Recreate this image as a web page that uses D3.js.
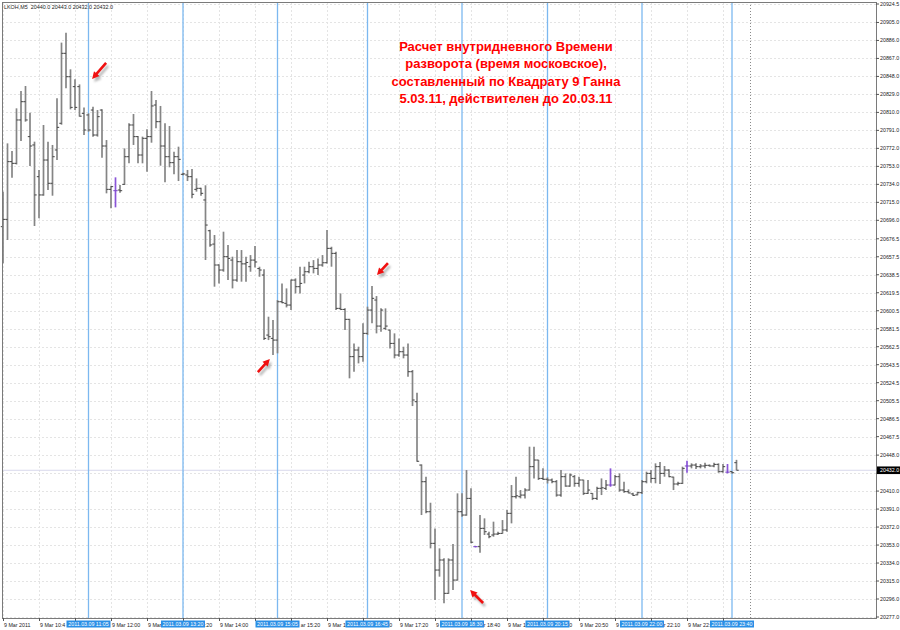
<!DOCTYPE html>
<html><head><meta charset="utf-8">
<script src="https://cdn.jsdelivr.net/npm/d3@7"></script>
<style>body{margin:0;background:#fff} svg{display:block}</style>
</head><body><svg id="c" width="900" height="630"></svg>
<script>
// ---------- DATA ----------
const opens=[20689.3,20697.0,20758.0,20756.2,20802.0,20821.3,20784.4,20775.6,20742.1,20722.8,
20759.7,20735.1,20770.3,20798.5,20872.4,20847.7,20837.2,20837.2,20809.0,20807.3,
20812.5,20786.1,20812.5,20774.5,20728.7,20727.3,20728.0,20734.0,20763.2,20796.7,
20784.4,20765.0,20782.6,20784.4,20817.8,20800.2,20774.5,20763.2,20756.9,20763.2,
20744.6,20743.9,20742.1,20728.7,20729.8,20717.5,20685.0,20670.9,20648.8,20643.5,
20657.6,20654.0,20632.9,20652.3,20650.0,20647.0,20654.0,20645.0,20638.2,20574.8,
20571.3,20569.5,20610.0,20608.3,20606.5,20632.9,20625.9,20638.2,20641.7,20647.0,
20645.2,20648.8,20651.2,20666.4,20661.1,20603.0,20601.9,20591.4,20552.0,20559.0,
20552.0,20576.6,20601.2,20611.8,20584.3,20581.9,20580.1,20566.0,20553.7,20557.2,
20553.7,20536.1,20504.4,20437.5,20419.9,20388.2,20354.8,20326.6,20337.2,20302.0,
20337.2,20316.0,20388.2,20384.7,20402.3,20351.3,20351.3,20370.6,20364.6,20363.6,
20364.6,20365.3,20368.9,20386.5,20404.1,20404.1,20405.8,20411.1,20435.8,20442.8,
20423.4,20422.5,20421.7,20419.9,20405.8,20425.2,20415.3,20425.2,20418.2,20421.7,
20407.6,20407.6,20402.3,20412.9,20412.9,20416.4,20416.4,20425.2,20411.1,20409.4,
20407.0,20406.0,20408.3,20419.9,20428.7,20423.4,20435.8,20428.7,20432.2,20424.8,
20417.5,20418.2,20436.5,20436.5,20437.5,20435.8,20436.5,20437.2,20436.5,20438.2,
20430.5,20430.0,20430.5,20440.0];
const highs=[20726.3,20777.3,20769.2,20814.3,20832.6,20837.9,20809.7,20779.1,20749.2,20796.7,
20779.1,20775.6,20824.9,20883.7,20894.2,20855.5,20844.9,20839.6,20815.3,20809.0,
20816.0,20812.5,20813.2,20780.8,20732.6,20741.4,20733.3,20772.0,20798.5,20808.3,
20785.0,20784.4,20792.1,20832.6,20823.1,20816.8,20798.5,20795.6,20768.5,20773.8,
20746.3,20749.2,20750.2,20740.3,20730.5,20733.0,20686.0,20680.5,20649.5,20684.0,
20669.9,20657.6,20664.6,20664.6,20657.6,20659.3,20668.8,20647.0,20644.2,20594.2,
20590.7,20611.8,20629.4,20624.1,20633.5,20634.7,20647.0,20647.0,20652.3,20654.0,
20655.8,20659.3,20685.7,20668.1,20662.8,20618.8,20603.0,20592.0,20566.0,20562.5,
20587.2,20604.8,20626.6,20616.0,20603.0,20603.0,20580.5,20576.6,20571.3,20562.5,
20566.0,20537.9,20513.9,20438.2,20425.2,20397.7,20370.6,20349.5,20339.0,20339.0,
20354.1,20407.6,20407.6,20432.2,20412.9,20352.0,20384.7,20381.2,20367.1,20377.7,
20367.1,20379.4,20390.0,20416.4,20425.2,20411.1,20412.9,20456.9,20456.9,20443.0,
20434.0,20424.5,20423.4,20421.7,20432.2,20428.7,20428.7,20427.0,20425.2,20422.0,
20421.7,20407.9,20414.6,20423.4,20421.7,20434.0,20427.0,20428.7,20419.9,20411.8,
20408.3,20409.4,20421.7,20430.5,20432.2,20439.3,20440.7,20436.5,20433.0,20425.2,
20419.9,20435.8,20442.1,20439.3,20439.3,20438.6,20440.0,20438.2,20440.0,20439.3,
20438.6,20438.6,20431.0,20443.0];
const lows=[20650.6,20675.2,20741.1,20755.0,20779.8,20800.2,20753.4,20690.0,20698.1,20722.0,
20728.0,20722.0,20759.7,20797.0,20835.4,20813.2,20812.5,20805.5,20786.1,20789.6,
20784.4,20784.4,20762.2,20724.5,20708.7,20709.7,20725.2,20733.3,20756.2,20775.6,
20756.2,20756.2,20747.4,20778.0,20793.2,20753.7,20736.1,20752.0,20744.6,20737.5,
20743.5,20737.5,20719.2,20726.3,20722.0,20654.1,20668.2,20625.9,20629.4,20641.7,
20632.9,20624.1,20631.2,20631.2,20631.2,20641.7,20646.3,20636.4,20569.5,20569.5,
20553.7,20555.5,20608.3,20604.0,20601.2,20618.8,20618.8,20629.4,20640.0,20640.0,
20638.2,20647.0,20650.5,20647.0,20601.2,20601.2,20580.1,20529.1,20536.1,20544.9,
20546.7,20574.8,20587.2,20576.6,20578.3,20580.1,20560.7,20550.2,20551.9,20550.2,
20530.8,20499.8,20441.0,20384.7,20386.5,20349.5,20295.0,20319.6,20291.4,20301.5,
20305.5,20315.5,20382.9,20384.0,20354.8,20350.5,20344.9,20363.6,20360.1,20361.8,
20363.6,20365.0,20367.1,20375.9,20402.3,20402.3,20402.3,20410.5,20423.4,20421.7,
20421.7,20418.0,20418.2,20404.1,20404.1,20414.6,20414.6,20414.6,20414.6,20405.8,
20407.0,20400.5,20400.5,20405.8,20411.1,20414.6,20416.0,20409.4,20408.3,20407.6,
20404.8,20405.5,20406.9,20418.2,20418.9,20418.2,20417.5,20425.2,20424.5,20411.1,
20416.0,20417.5,20429.4,20434.0,20433.3,20434.0,20434.0,20435.8,20435.1,20429.4,
20429.4,20428.7,20428.5,20432.0];
const closes=[20697.0,20758.0,20756.2,20802.0,20821.3,20802.0,20774.5,20722.8,20722.8,20759.7,
20735.1,20763.2,20794.2,20872.4,20847.7,20815.3,20815.3,20806.0,20791.4,20791.4,
20786.1,20805.5,20774.5,20728.7,20731.6,20727.3,20727.3,20763.2,20796.7,20784.4,
20765.0,20782.6,20784.4,20816.8,20800.2,20774.5,20763.2,20756.9,20763.2,20760.4,
20745.0,20742.1,20723.5,20729.8,20724.5,20691.0,20670.0,20648.8,20643.5,20657.6,
20655.8,20632.9,20652.3,20650.0,20651.5,20654.0,20652.0,20643.5,20571.3,20573.1,
20569.5,20610.0,20609.0,20606.5,20632.9,20625.9,20629.4,20641.7,20647.0,20645.2,
20648.8,20651.2,20666.4,20661.1,20603.0,20601.9,20591.4,20552.0,20559.0,20552.0,
20576.6,20601.2,20613.6,20584.3,20601.2,20584.3,20566.0,20553.7,20557.2,20553.7,
20536.1,20506.2,20441.5,20419.9,20388.2,20354.8,20326.6,20337.2,20302.0,20337.2,
20316.0,20388.2,20384.7,20402.3,20356.0,20351.3,20370.6,20367.1,20361.8,20364.6,
20365.3,20368.9,20386.5,20404.1,20405.0,20405.8,20411.1,20435.8,20442.8,20423.4,
20422.5,20421.7,20419.9,20405.8,20425.2,20415.3,20427.0,20418.2,20421.7,20407.6,
20411.1,20402.3,20412.9,20413.5,20416.4,20416.4,20425.2,20411.1,20409.4,20408.0,
20405.5,20408.3,20419.9,20428.7,20423.4,20435.8,20428.7,20432.2,20425.2,20417.5,
20418.2,20434.0,20436.5,20437.5,20435.8,20436.5,20437.2,20436.5,20438.2,20430.5,
20435.8,20430.0,20429.4,20432.0];

const priceTicks=[20924.5,20905.0,20886.0,20867.0,20848.0,20829.0,20810.0,20791.0,20772.0,20753.0,
20734.0,20715.0,20696.0,20676.5,20657.5,20638.5,20619.5,20600.5,20581.5,20562.5,20543.5,20524.5,
20505.5,20486.5,20467.5,20448.0,20429.0,20410.0,20391.0,20372.0,20353.0,20334.0,20315.0,20296.0,20277.0];
const timeTickIdx=[0,8,16,24,32,40,48,56,64,72,80,88,96,104,112,120,128,136,144,152,160];
const timeTickLabels=["9 Mar 2011","9 Mar 10:40","9 Mar 11:20","9 Mar 12:00","9 Mar 12:40","9 Mar 13:20",
"9 Mar 14:00","9 Mar 14:40","9 Mar 15:20","9 Mar 16:00","9 Mar 16:40","9 Mar 17:20","9 Mar 18:00",
"9 Mar 18:40","9 Mar 19:30","9 Mar 20:10","9 Mar 20:50","9 Mar 21:30","9 Mar 22:10","9 Mar 22:50","9 Mar 23:30"];
const markerIdx=[19,40,61,81,102,121,142,162];
const markerLabels=["2011.03.09 11:05","2011.03.09 13:20","2011.03.09 15:05","2011.03.09 16:45",
"2011.03.09 18:30","2011.03.09 20:15","2011.03.09 22:00","2011.03.09 23:40"];
const shiftIdx=166;
const lastPrice=20432.0;
const lastPriceLabel="20432.0";
const header="LKOH,M5  20440.0 20443.0 20432.0 20432.0";
const titleLines=["Расчет внутридневного Времени","разворота (время московское),",
"составленный по Квадрату 9 Ганна","5.03.11, действителен до 20.03.11"];
// arrows: head at (bar index, price), tail offset in px
const arrowIdx=[19.8,59.3,83.1,103.8];
const arrowPrice=[20845.3,20549.5,20638.2,20305.5];
const arrowTail=[[14,-16],[-12,13],[11,-12],[13,13]];

// ---------- CHART ----------
const svg=d3.select("#c");
const L=2,T=2,R=876,B=618;
const x=d3.scaleLinear().domain([0,166]).range([3,750]);
const y=d3.scaleLinear().domain([20277,20924.5]).range([617,4]);
const small="'Liberation Sans', Arial, sans-serif";
const FS=5.3;

svg.append("rect").attr("width",900).attr("height",630).attr("fill","#fff");

// grid
const g=svg.append("g");
g.selectAll(".hg").data(priceTicks).enter().append("line")
 .attr("x1",L).attr("x2",R).attr("y1",d=>Math.round(y(d))+0.5).attr("y2",d=>Math.round(y(d))+0.5)
 .attr("stroke","#e4e4e4").attr("stroke-dasharray","2,2").attr("stroke-width",1);
g.selectAll(".vg").data(timeTickIdx).enter().append("line")
 .attr("x1",d=>Math.round(x(d))+0.5).attr("x2",d=>Math.round(x(d))+0.5).attr("y1",T).attr("y2",B)
 .attr("stroke","#e4e4e4").attr("stroke-dasharray","2,2").attr("stroke-width",1);

// bid line
svg.append("line").attr("x1",L).attr("x2",R).attr("y1",y(lastPrice)).attr("y2",y(lastPrice))
 .attr("stroke","#d8d8ec").attr("stroke-width",1);

// marker lines
svg.selectAll(".ml").data(markerIdx).enter().append("line")
 .attr("x1",d=>x(d)).attr("x2",d=>x(d)).attr("y1",T).attr("y2",B)
 .attr("stroke","#7cb8f0").attr("stroke-width",1.3);
// shift line
svg.append("line").attr("x1",Math.round(x(shiftIdx))+0.5).attr("x2",Math.round(x(shiftIdx))+0.5)
 .attr("y1",T).attr("y2",B).attr("stroke","#8a8a8a").attr("stroke-dasharray","1,2");

// bars
const bars=d3.range(opens.length).map(i=>({i,o:opens[i],h:highs[i],l:lows[i],c:closes[i]}));
const bg=svg.append("g");
const col=d=>d.o===d.c?"#8a55d8":"#858585";
bg.selectAll(".b").data(bars).enter().append("line")
 .attr("x1",d=>x(d.i)).attr("x2",d=>x(d.i)).attr("y1",d=>y(d.h)).attr("y2",d=>y(d.l))
 .attr("stroke",col).attr("stroke-width",1.7);
bg.selectAll(".o").data(bars).enter().append("line")
 .attr("x1",d=>x(d.i)-2.2).attr("x2",d=>x(d.i)).attr("y1",d=>y(d.o)).attr("y2",d=>y(d.o))
 .attr("stroke",d=>d.o===d.c?"#7a45c8":"#444").attr("stroke-width",1);
bg.selectAll(".cl").data(bars).enter().append("line")
 .attr("x1",d=>x(d.i)).attr("x2",d=>x(d.i)+2.2).attr("y1",d=>y(d.c)).attr("y2",d=>y(d.c))
 .attr("stroke",d=>d.o===d.c?"#7a45c8":"#444").attr("stroke-width",1);

// frame
svg.append("rect").attr("x",L+0.5).attr("y",T+0.5).attr("width",R-L).attr("height",B-T)
 .attr("fill","none").attr("stroke","#7a7a7a").attr("stroke-width",1);

// price axis
const hlTop=y(lastPrice)-3.8, hlBot=y(lastPrice)+3.8;
svg.selectAll(".pt").data(priceTicks).enter().append("line")
 .attr("x1",R).attr("x2",R+3).attr("y1",d=>y(d)).attr("y2",d=>y(d)).attr("stroke","#555");
svg.selectAll(".pl").data(priceTicks.filter(d=>!(y(d)+2>hlTop-1 && y(d)-2<hlBot+1))).enter().append("text")
 .attr("x",R+4).attr("y",d=>y(d)+2).text(d=>d.toFixed(1))
 .attr("font-family",small).attr("font-size",FS).attr("fill","#222");
// last price highlight
svg.append("rect").attr("x",R+1).attr("y",hlTop).attr("width",23).attr("height",7.6).attr("fill","#000");
svg.append("text").attr("x",R+4).attr("y",y(lastPrice)+2).text(lastPriceLabel)
 .attr("font-family",small).attr("font-size",FS).attr("fill","#fff");

// time axis ticks
svg.selectAll(".tt").data(timeTickIdx).enter().append("line")
 .attr("x1",d=>Math.round(x(d))+0.5).attr("x2",d=>Math.round(x(d))+0.5).attr("y1",B).attr("y2",B+3).attr("stroke","#555");

// marker label boxes
const boxW=44;
const boxes=markerIdx.map(d=>[x(d)-boxW/2,x(d)+boxW/2]);

// time labels: only the parts not covered by marker boxes (as on the reference)
const tg=svg.append("g");
timeTickIdx.forEach((d,k)=>{
  const s=timeTickLabels[k];
  const t=tg.append("text").attr("x",x(d)+1).attr("y",626.5).text(s)
   .attr("font-family",small).attr("font-size",FS).attr("fill","#222");
  const node=t.node();
  const vis=[];
  for(let c=0;c<s.length;c++){
    const a=node.getStartPositionOfChar(c).x, b=node.getEndPositionOfChar(c).x;
    vis.push(!boxes.some(bx=>b>bx[0]+0.8 && a<bx[1]-0.8));
  }
  if(vis.every(v=>v)) return;
  const segs=[];let cur=null;
  for(let c=0;c<s.length;c++){
    if(vis[c]){ if(!cur){cur={start:c,str:""};segs.push(cur);} cur.str+=s[c]; } else cur=null;
  }
  const pos=segs.map(sg=>node.getStartPositionOfChar(sg.start).x);
  t.remove();
  segs.forEach((sg,j)=>{
    if(sg.str.trim()==="") return;
    tg.append("text").attr("x",pos[j]).attr("y",626.5).attr("xml:space","preserve")
     .text(sg.str.trimEnd()).attr("font-family",small).attr("font-size",FS).attr("fill","#222");
  });
});

const mg=svg.selectAll(".mk").data(markerIdx).enter().append("g");
mg.append("rect").attr("x",d=>x(d)-boxW/2).attr("y",620.5).attr("width",boxW).attr("height",7)
 .attr("fill","#2b8fe6");
mg.append("text").attr("x",d=>x(d)).attr("y",626.2).attr("text-anchor","middle")
 .text((d,k)=>markerLabels[k]).attr("font-family",small).attr("font-size",FS).attr("fill","#fff");

// header
svg.append("text").attr("x",4).attr("y",9).text(header).attr("xml:space","preserve")
 .attr("font-family",small).attr("font-size",5.4).attr("fill","#222");

// title
svg.append("g").selectAll("text").data(titleLines).enter().append("text")
 .attr("x",506).attr("y",(d,k)=>51+k*17.3).attr("text-anchor","middle").text(d=>d)
 .attr("font-family","'Liberation Sans', Arial, sans-serif").attr("font-weight","bold")
 .attr("font-size",13).attr("fill","#ff0000");

// arrows
const defs=svg.append("defs");
defs.append("filter").attr("id","blur").append("feGaussianBlur").attr("stdDeviation",1);
function arrowPath(hx,hy,tx,ty){
  const dx=hx-tx,dy=hy-ty,len=Math.hypot(dx,dy),ux=dx/len,uy=dy/len,px=-uy,py=ux;
  const hl=7,hw=3.6,sw=1.3;
  const bx=hx-ux*hl,by=hy-uy*hl;
  return `M${tx+px*sw},${ty+py*sw}L${bx+px*sw},${by+py*sw}L${bx+px*hw},${by+py*hw}L${hx},${hy}`+
   `L${bx-px*hw},${by-py*hw}L${bx-px*sw},${by-py*sw}L${tx-px*sw},${ty-py*sw}Z`;
}
const ag=svg.append("g");
arrowIdx.forEach((ai,k)=>{
  const hx=x(ai),hy=y(arrowPrice[k]),tx=hx+arrowTail[k][0],ty=hy+arrowTail[k][1];
  ag.append("path").attr("d",arrowPath(hx+2,hy+3,tx+2,ty+3)).attr("fill","#888").attr("opacity",0.6).attr("filter","url(#blur)");
  ag.append("path").attr("d",arrowPath(hx,hy,tx,ty)).attr("fill","#f01010");
});
</script></body></html>
